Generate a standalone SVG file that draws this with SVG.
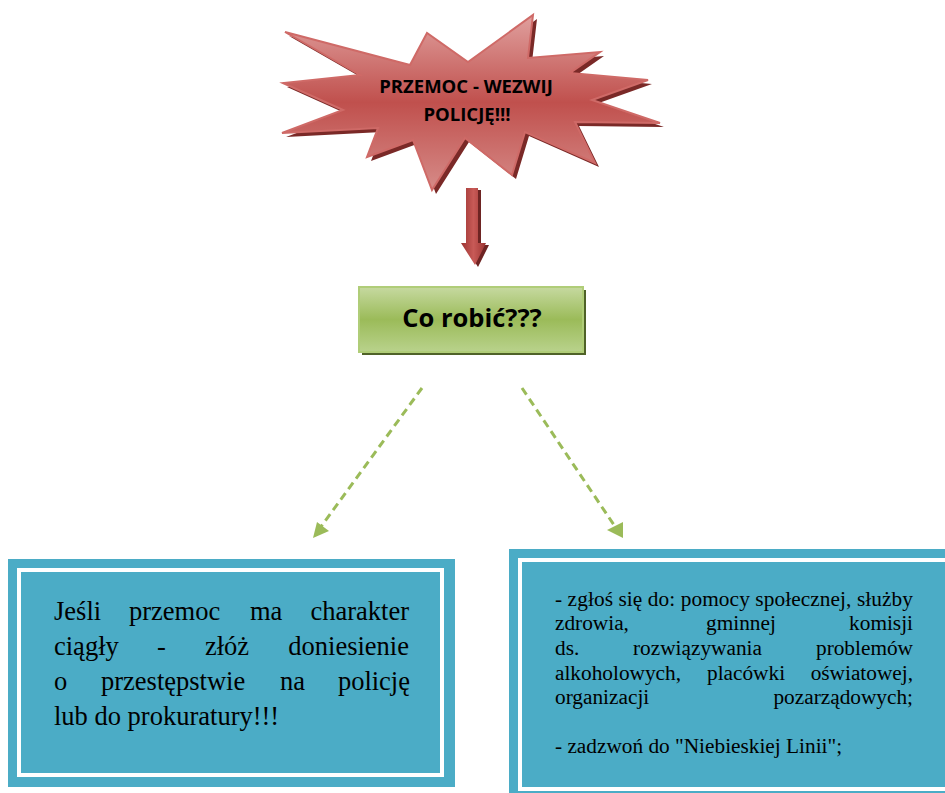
<svg xmlns="http://www.w3.org/2000/svg" width="945" height="793" viewBox="0 0 945 793">
  <defs>
    <linearGradient id="gStar" x1="0" y1="0" x2="0" y2="1">
      <stop offset="0" stop-color="#e0a09e"/>
      <stop offset="0.5" stop-color="#c0504d"/>
      <stop offset="1" stop-color="#d68b88"/>
    </linearGradient>
    <linearGradient id="gArrow" x1="0" y1="0" x2="1" y2="0">
      <stop offset="0" stop-color="#9c3432"/>
      <stop offset="0.5" stop-color="#c85a57"/>
      <stop offset="1" stop-color="#9c3432"/>
    </linearGradient>
    <linearGradient id="gGreen" x1="0" y1="0" x2="0" y2="1">
      <stop offset="0" stop-color="#c6d9a0"/>
      <stop offset="0.5" stop-color="#9bbb59"/>
      <stop offset="1" stop-color="#b9d28c"/>
    </linearGradient>
  </defs>
  <style>
    .star { fill: url(#gStar); stroke: #cf6a67; stroke-width: 2; stroke-linejoin: miter; }
    .starShadow { fill: #7a2927; }
    .hdr { font-family: "Open Sans", "Liberation Sans", sans-serif; font-weight: 700; fill: #000; text-anchor: middle; }
    .blue { fill: #4bacc6; }
    .inner { fill: none; stroke: #ffffff; stroke-width: 4; }
    .body { font-family: "Liberation Serif", "Times New Roman", serif; fill: #000; }
    .dash { stroke: #9bbb59; stroke-width: 3; stroke-dasharray: 8 5; fill: none; }
    .tri { fill: #9bbb59; }
  </style>

  <g id="star">
    <polygon class="starShadow" transform="translate(4,4)" points="285,32 410,65 427,33 468,62 533,15 528,58 600,52 570,73 648,80 592,100 660,123 575,122 595,163 525,132 512,175 465,138 432,190 413,140 367,157 378,128 282,133 343,110 283,83 360,75"/>
    <polygon class="star" points="285,32 410,65 427,33 468,62 533,15 528,58 600,52 570,73 648,80 592,100 660,123 575,122 595,163 525,132 512,175 465,138 432,190 413,140 367,157 378,128 282,133 343,110 283,83 360,75"/>
    <text class="hdr" x="466" y="93" font-size="18.5">PRZEMOC - WEZWIJ</text>
    <text class="hdr" x="467" y="121" font-size="18.5">POLICJĘ!!!</text>
  </g>

  <g id="co-robic">
    <rect x="362" y="290" width="224" height="65" fill="#4f6228"/>
    <rect x="359" y="287" width="224" height="65" fill="url(#gGreen)" stroke="#b0cd78" stroke-width="2"/>
    <text class="hdr" x="472" y="327" font-size="25.5">Co robić???</text>
  </g>

  <g id="left-box">
    <rect class="blue" x="8" y="559" width="447" height="228"/>
    <rect class="inner" x="19" y="570" width="423" height="205"/>
    <text class="body" font-size="26.5">
      <tspan x="54" y="620">Jeśli</tspan><tspan x="129" y="620">przemoc</tspan><tspan x="250" y="620">ma</tspan><tspan x="409" y="620" text-anchor="end">charakter</tspan>
    </text>
    <text class="body" font-size="26.5">
      <tspan x="54" y="655">ciągły</tspan><tspan x="157" y="655">-</tspan><tspan x="205" y="655">złóż</tspan><tspan x="409" y="655" text-anchor="end">doniesienie</tspan>
    </text>
    <text class="body" font-size="26.5">
      <tspan x="54" y="690">o</tspan><tspan x="101" y="690">przestępstwie</tspan><tspan x="280" y="690">na</tspan><tspan x="410" y="690" text-anchor="end">policję</tspan>
    </text>
    <text class="body" font-size="26.5" x="54" y="725">lub do prokuratury!!!</text>
  </g>

  <g id="right-box">
    <rect class="blue" x="509" y="549" width="460" height="260"/>
    <rect class="inner" x="520" y="560" width="440" height="229"/>
    <text class="body" font-size="21.3" x="555" y="605.5" textLength="358" lengthAdjust="spacing">- zgłoś się do: pomocy społecznej, służby</text>
    <text class="body" font-size="21.3">
      <tspan x="555" y="630">zdrowia,</tspan><tspan x="706" y="630">gminnej</tspan><tspan x="913" y="630" text-anchor="end">komisji</tspan>
    </text>
    <text class="body" font-size="21.3">
      <tspan x="555" y="655">ds.</tspan><tspan x="633" y="655">rozwiązywania</tspan><tspan x="913" y="655" text-anchor="end">problemów</tspan>
    </text>
    <text class="body" font-size="21.3">
      <tspan x="555" y="679.5">alkoholowych,</tspan><tspan x="707" y="679.5">placówki</tspan><tspan x="913" y="679.5" text-anchor="end">oświatowej,</tspan>
    </text>
    <text class="body" font-size="21.3">
      <tspan x="555" y="703.5">organizacji</tspan><tspan x="913" y="703.5" text-anchor="end">pozarządowych;</tspan>
    </text>
    <text class="body" font-size="21.3" x="555" y="753">- zadzwoń do "Niebieskiej Linii";</text>
  </g>

  <g id="connectors">
    <g id="red-arrow">
      <polygon fill="#6e2423" transform="translate(3,2)" points="466,188 478,188 478,243 486,243 475,265 461,243 466,243"/>
      <polygon fill="url(#gArrow)" points="466,188 478,188 478,243 486,243 475,265 461,243 466,243"/>
    </g>
    <line class="dash" x1="422" y1="388" x2="320" y2="528"/>
    <polygon class="tri" points="313,538 317,522 329,531"/>
    <line class="dash" x1="522" y1="388" x2="616" y2="528"/>
    <polygon class="tri" points="623,538 623,522 607,530"/>
  </g>
</svg>
